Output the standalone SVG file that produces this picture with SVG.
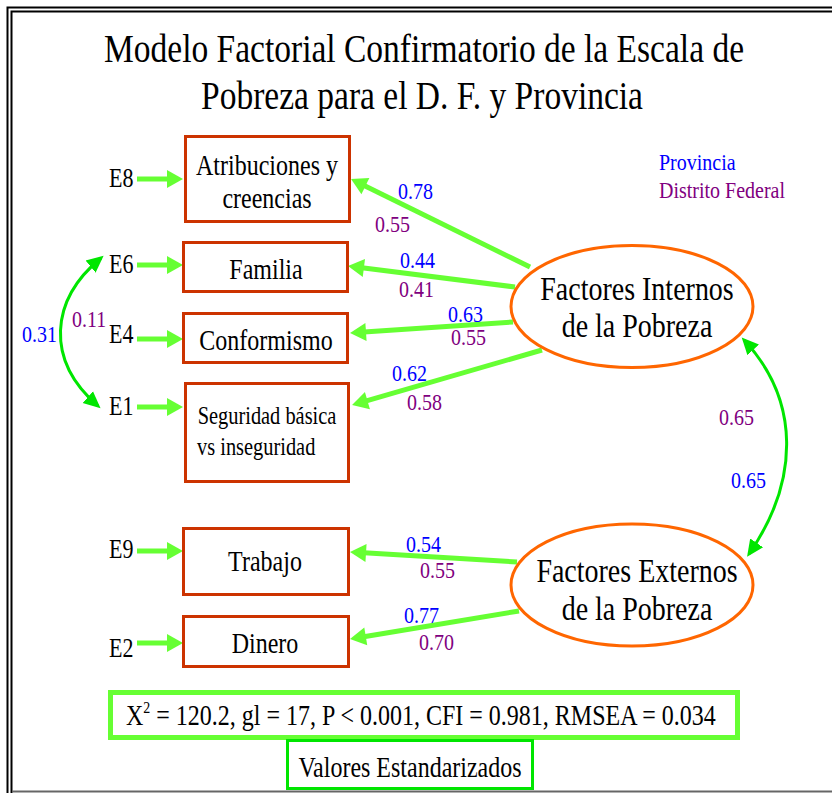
<svg xmlns="http://www.w3.org/2000/svg" width="832" height="793" viewBox="0 0 832 793">
<style>
text{font-family:"Liberation Serif","Times New Roman",serif;fill:#000}
.title{font-size:33.5px}
.box{fill:#fff;stroke:#cc3300;stroke-width:3}
.ell{fill:#fff;stroke:#ff6600;stroke-width:3}
.bt{font-size:24px;text-anchor:middle}
.et{font-size:28px;text-anchor:middle}
.el{font-size:22px}
.lb{font-size:20px}
.pv{fill:#0000ff}
.df{fill:#800080}
.load{stroke:#66ff33;stroke-width:5;fill:none}
.cov{stroke:#00e600;stroke-width:3;fill:none}
</style>
<defs>
<marker id="ah" markerUnits="userSpaceOnUse" markerWidth="20" markerHeight="20" viewBox="0 -10 18 20" refX="2" refY="0" orient="auto">
<path d="M0,-9 L16,0 L0,9 z" fill="#66ff33"/>
</marker>
<marker id="ch" markerUnits="userSpaceOnUse" markerWidth="18" markerHeight="18" viewBox="0 -8 16 16" refX="12" refY="0" orient="auto-start-reverse">
<path d="M0,-7 L15,0 L0,7 z" fill="#00e600"/>
</marker>
</defs>
<rect width="832" height="793" fill="#fff"/>
<g id="frame" fill="none">
<path d="M7.5,793 V7.5 H832" stroke="#000" stroke-width="2"/>
<path d="M11.5,793 V11.5 H832" stroke="#000" stroke-width="2"/>
<path d="M12,791.5 H832" stroke="#666" stroke-width="2"/>
</g>
<g id="title">
<text class="title" text-anchor="middle" transform="translate(424 62) scale(1 1.2)">Modelo Factorial Confirmatorio de la Escala de</text>
<text class="title" text-anchor="middle" transform="translate(422 109) scale(1 1.2)">Pobreza para el D. F. y Provincia</text>
</g>
<g id="legend">
<text class="lb pv" transform="translate(659 170) scale(1 1.12)">Provincia</text>
<text class="lb df" transform="translate(659 198) scale(1 1.12)">Distrito Federal</text>
</g>
<g id="connectors">
<path class="load" d="M137,179 H169" marker-end="url(#ah)"/>
<path class="load" d="M137,265 H169" marker-end="url(#ah)"/>
<path class="load" d="M137,339 H169" marker-end="url(#ah)"/>
<path class="load" d="M137,407 H169" marker-end="url(#ah)"/>
<path class="load" d="M137,551 H169" marker-end="url(#ah)"/>
<path class="load" d="M137,643 H169" marker-end="url(#ah)"/>
<path class="load" d="M530,267 L363.6,185.2" marker-end="url(#ah)"/>
<path class="load" d="M515,287 L361.9,267.8" marker-end="url(#ah)"/>
<path class="load" d="M513,322 L364,332.1" marker-end="url(#ah)"/>
<path class="load" d="M542,350 L365.5,401.1" marker-end="url(#ah)"/>
<path class="load" d="M517,562 L364,552.8" marker-end="url(#ah)"/>
<path class="load" d="M519,611 L363.8,636.7" marker-end="url(#ah)"/>
<path class="cov" d="M101,258 C50,300 45,360 98,406" marker-start="url(#ch)" marker-end="url(#ch)"/>
<path class="cov" d="M744,340 C800,400 800,480 749,554" marker-start="url(#ch)" marker-end="url(#ch)"/>
</g>
<g id="E8"><text class="el" transform="translate(109 187) scale(1 1.2)">E8</text></g>
<g id="E6"><text class="el" transform="translate(109 273) scale(1 1.2)">E6</text></g>
<g id="E4"><text class="el" transform="translate(109 343) scale(1 1.2)">E4</text></g>
<g id="E1"><text class="el" transform="translate(109 415) scale(1 1.2)">E1</text></g>
<g id="E9"><text class="el" transform="translate(109 558) scale(1 1.2)">E9</text></g>
<g id="E2"><text class="el" transform="translate(109 657) scale(1 1.2)">E2</text></g>
<g id="atribuciones">
<rect class="box" x="185.5" y="136.5" width="164" height="85"/>
<text class="bt" transform="translate(267 175) scale(1 1.2)">Atribuciones y</text>
<text class="bt" transform="translate(267 208) scale(1 1.2)">creencias</text>
</g>
<g id="familia">
<rect class="box" x="183.5" y="242.5" width="164" height="49"/>
<text class="bt" transform="translate(266 279) scale(1 1.2)">Familia</text>
</g>
<g id="conformismo">
<rect class="box" x="183.5" y="313.5" width="164" height="49"/>
<text class="bt" transform="translate(266 350) scale(1 1.2)">Conformismo</text>
</g>
<g id="seguridad">
<rect class="box" x="185.5" y="383.5" width="163" height="98"/>
<text class="bt" style="font-size:20.4px" transform="translate(267 424) scale(1 1.2)">Seguridad básica</text>
<text class="bt" style="font-size:20.4px;text-anchor:start" transform="translate(197 455) scale(1 1.2)">vs inseguridad</text>
</g>
<g id="trabajo">
<rect class="box" x="183.5" y="528.5" width="165" height="66"/>
<text class="bt" transform="translate(265 571) scale(1 1.2)">Trabajo</text>
</g>
<g id="dinero">
<rect class="box" x="183.5" y="616.5" width="165" height="50"/>
<text class="bt" transform="translate(265 653) scale(1 1.2)">Dinero</text>
</g>
<g id="internos">
<ellipse class="ell" cx="632" cy="306.5" rx="121" ry="61"/>
<text class="et" transform="translate(637 300) scale(1 1.2)">Factores Internos</text>
<text class="et" transform="translate(637 337) scale(1 1.2)">de la Pobreza</text>
</g>
<g id="externos">
<ellipse class="ell" cx="632" cy="585" rx="121" ry="61"/>
<text class="et" transform="translate(637 582) scale(1 1.2)">Factores Externos</text>
<text class="et" transform="translate(637 620) scale(1 1.2)">de la Pobreza</text>
</g>
<g id="labels">
<text class="lb pv" transform="translate(398 199) scale(1 1.12)">0.78</text>
<text class="lb df" transform="translate(375 232) scale(1 1.12)">0.55</text>
<text class="lb pv" transform="translate(400 268) scale(1 1.12)">0.44</text>
<text class="lb df" transform="translate(399 297) scale(1 1.12)">0.41</text>
<text class="lb pv" transform="translate(448 322) scale(1 1.12)">0.63</text>
<text class="lb df" transform="translate(451 345) scale(1 1.12)">0.55</text>
<text class="lb pv" transform="translate(392 381) scale(1 1.12)">0.62</text>
<text class="lb df" transform="translate(407 410) scale(1 1.12)">0.58</text>
<text class="lb pv" transform="translate(406 552) scale(1 1.12)">0.54</text>
<text class="lb df" transform="translate(420 578) scale(1 1.12)">0.55</text>
<text class="lb pv" transform="translate(404 623) scale(1 1.12)">0.77</text>
<text class="lb df" transform="translate(419 650) scale(1 1.12)">0.70</text>
<text class="lb pv" transform="translate(22 342) scale(1 1.12)">0.31</text>
<text class="lb df" transform="translate(72 327) scale(1 1.12)">0.11</text>
<text class="lb df" transform="translate(719 425) scale(1 1.12)">0.65</text>
<text class="lb pv" transform="translate(731 488) scale(1 1.12)">0.65</text>
</g>
<g id="fit">
<rect x="110.5" y="692.5" width="627" height="45" fill="#fff" stroke="#66ff33" stroke-width="5"/>
<text style="font-size:24px" transform="translate(126 725) scale(1 1.2)">X<tspan style="font-size:14px" dy="-10">2</tspan><tspan dy="10"> = 120.2, gl = 17, P &lt; 0.001, CFI = 0.981, RMSEA = 0.034</tspan></text>
</g>
<g id="valores">
<rect x="287.5" y="740.5" width="245" height="48" fill="#fff" stroke="#00e600" stroke-width="3"/>
<text style="font-size:24px;text-anchor:middle" transform="translate(410 777) scale(1 1.2)">Valores Estandarizados</text>
</g>
</svg>
